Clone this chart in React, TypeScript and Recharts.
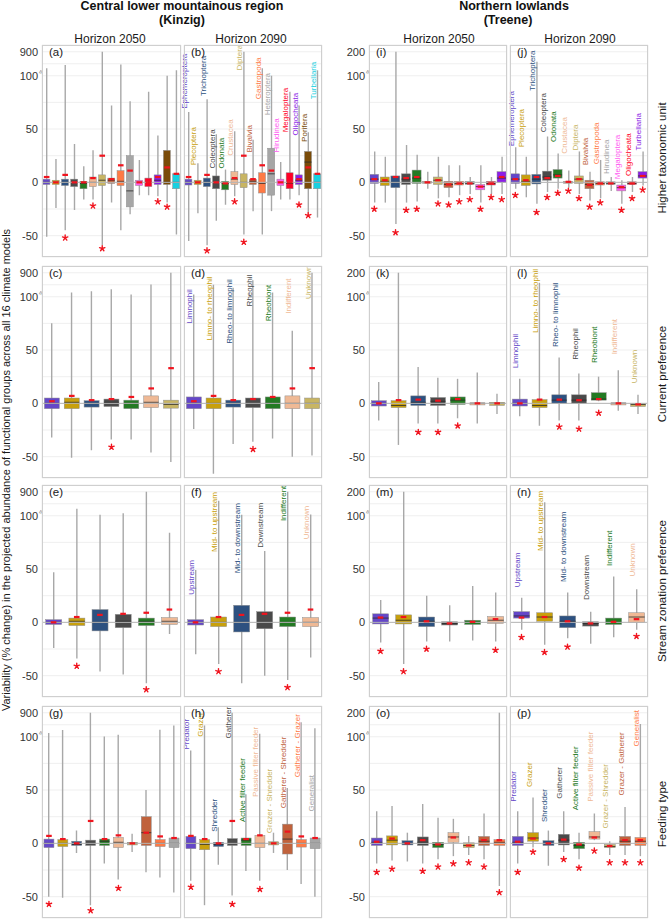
import React from 'react'
import {
  ComposedChart,
  Bar,
  Line,
  XAxis,
  YAxis,
  CartesianGrid,
  ReferenceLine,
} from 'recharts'

// each row: [low whisker, q1, median, q3, high whisker, mean, star (null = none)]
type Stat = [number, number, number, number, number, number, number | null]

const PURPLE = '#6447c8'
const GOLD = '#c8a00c'
const BLUE = '#2d5180'
const DARK = '#4a4a4a'
const GREEN = '#237a23'
const PEACH = '#efb995'
const KHAKI = '#c8b563'
const SIENNA = '#c0623c'
const ORANGE = '#ff7a45'
const GREY = '#a6a6a6'
const MAGENTA = '#ff5cf0'
const RED = '#ff0026'
const VIOLET = '#8b1ee6'
const BROWN = '#7a4b08'
const CYAN = '#18d0e0'

// ---- Higher taxonomic unit
const kinzigTaxa = ['Ephemeroptera', 'Plecoptera', 'Trichoptera', 'Coleoptera', 'Odonata', 'Crustacea', 'Diptera', 'Bivalvia', 'Gastropoda', 'Heteroptera', 'Hirudinea', 'Megaloptera', 'Oligocheata', 'Porifera', 'Turbellaria']
const kinzigTaxaColors = [PURPLE, GOLD, BLUE, DARK, GREEN, PEACH, KHAKI, SIENNA, ORANGE, GREY, MAGENTA, RED, VIOLET, BROWN, CYAN]
const treeneTaxa = ['Ephemeroptera', 'Plecoptera', 'Trichoptera', 'Coleoptera', 'Odonata', 'Crustacea', 'Diptera', 'Bivalvia', 'Gastropoda', 'Hirudinea', 'Megaloptera', 'Oligocheata', 'Turbellaria']
const treeneTaxaColors = [PURPLE, GOLD, BLUE, DARK, GREEN, PEACH, KHAKI, SIENNA, ORANGE, GREY, MAGENTA, RED, VIOLET]

const statsA: Stat[] = [
  [-51, -2, 0, 3, 350, 5, null], [-24, -2, 0, 2, 22, 0, null], [-45, -3, 0, 3, 455, 7, -52],
  [-26, -4, 0, 3, 36, 0, null], [-16, -6, -1, 1, 15, 0, null], [-16, -4, 0, 5, 30, 4, -22],
  [-59, -3, 2, 7, 900, 25, -62], [-19, -1, 2, 4, 72, 3, null], [-45, -3, 1, 11, 470, 16, null],
  [-30, -23, -8, 25, 76, 11, null], [-12, -3, 0, 2, 21, 0, null], [-12, -4, 0, 4, 85, 0, null],
  [-13, -2, 2, 7, 44, 5, -18], [-19, -2, 0, 30, 100, 14, -23], [-49, -6, 0, 8, 280, 8, null],
]
const statsB: Stat[] = [
  [-55, -2.5, 0, 3, 66, 5, null], [-29, -2, 0, 2, 18, 0, null], [-59, -4, 0, 4, 78, 7, -64],
  [-36, -6, 0, 6, 45, 0, null], [-21, -7, -1, 1, 12, -1, null], [-13, -2, 3, 10, 48, 4, -18],
  [-49, -5, 0, 8, 900, 25, -56], [-27, -2, 1, 3, 40, 3, null], [-49, -10, -1, 9, 350, 16, null],
  [-27, -12, 8, 32, 100, 11, null], [-16, -3, 0, 3, 19, 0, null], [-16, -6, -1, 9, 85, 0, null],
  [-12, -2, 2, 7, 72, 3, -21], [-29, -6, 19, 29, 47, 14, -31], [-33, -6, 0, 8, 280, 8, null],
]
const labelsB = [68, 15, 80, 12, 12, 24, 240, 27, 77, 62, 27, 46, 43, 37, 77]

const statsI: Stat[] = [
  [-19, -1, 3, 7.5, 29, 3, -25], [-19, -3, 1, 5, 24, 2, null], [-39, -5, 0, 6, 200, 5, -47],
  [-19, -2, 3, 8, 35, 4, -26], [-18, -1, 4, 11.5, 26, 5, -25], [-6, -1, 0, 1, 10, 0, null],
  [-15, -2, 2, 5, 24, 2, -20], [-14, -5, -2, 1, 16, -2, -21], [-12, -2.5, -1, 1, 16, -1, -18],
  [-11, -2, -1, 1, 5, -1, -16], [-19, -7, -4, -2, 16, -4, -25], [-11, -2.5, -1, 1, 5, -1, -14],
  [-11, 0, 4, 10, 24, 5, -16],
]
const statsJ: Stat[] = [
  [-6, -1, 3, 8, 33, 3, -12], [-14, -3, 1, 7, 24, 2, null], [-20, -1.5, 3, 7.5, 158, 5, -28],
  [-9, 2, 5, 10.5, 43, 4, -14], [-6, 4, 7, 12, 27, 6, -10], [-5, -1, 0, 1, 11, 0.5, -8],
  [-11, -1, 3, 6, 29, 3, -15], [-17, -6, -2, 2, 10, -2.5, -23], [-15, -2.5, -1, 0.5, 21, -1, -19],
  [-8, -2, -1, 0.5, 5, -1, null], [-20, -8, -5, -2.5, 2, -4.5, -26], [-9, -2, -1, 0.5, 5, -1, -15],
  [-3, 4, 6, 10, 29, 6, -7],
]
const labelsJ = [33, 32, 85, 46, 37, 26, 29, 15, 16, 7, 2, 5, 29]

// ---- Current preference
const currentCats = ['Limnophil', 'Limno- to rheophil', 'Rheo- to limnophil', 'Rheophil', 'Rheobiont', 'Indifferent', 'Unknown']
const currentColors = [PURPLE, GOLD, BLUE, DARK, GREEN, PEACH, KHAKI]

const statsC: Stat[] = [
  [-32, -5, 0, 5, 75, 2, null], [-51, -5, 1, 5, 240, 7, null], [-44, -3.5, 0, 2.5, 280, 3, null],
  [-34, -3, 1, 4, 350, 4, -41], [-34, -5, 0, 3, 175, 6, null], [-46, -4, 1, 7, 510, 14, null],
  [-55, -4.5, -1, 3, 900, 33, null],
]
const statsD: Stat[] = [
  [-24, -5, 0, 6, 175, 2, null], [-66, -5, 0, 5, 500, 7, null], [-38, -3.5, 0, 3, 400, 3, null],
  [-36, -4, 0, 5, 650, 4, -43], [-33, -5, 0, 6, 240, 6, null], [-50, -5, 0, 7, 68, 14, null],
  [-49, -5, 0, 5, 900, 33, null],
]
const labelsD = [74, 58, 55, 90, 76, 83, 97]

const statsK: Stat[] = [
  [-16, -2.5, 0, 2.5, 20, 0, null], [-39, -4, -2, 2.5, 200, 3, null], [-19, -2, 1, 7, 34, 3.5, -27],
  [-19, -2, 2, 5.5, 24, 2.5, -27], [-14, -1, 3, 6, 23, 4, -21], [-19, -1.5, 0, 0.5, 29, 0, null],
  [-10, -2, 0, 1, 9, 0, null],
]
const statsL: Stat[] = [
  [-12, -2.5, 0, 4, 23, 0, null], [-21, -4, -2, 3.5, 158, 3.5, null], [-16, 0, 3, 8, 43, 3.5, -22],
  [-16, 0, 3, 8, 28, 3, -24], [2, 3, 4, 10, 25, 4, -9], [-7, -1.5, 0, 0.5, 31, 0, null],
  [-10, -3, -1, 0, 8, -1, null],
]
const labelsL = [32, 65, 52, 40, 37, 45, 18]

// ---- Stream zonation preference
const zoneCats = ['Upstream', 'Mid- to upstream', 'Mid- to downstream', 'Downstream', 'Indifferent', 'Unknown']
const zoneColors = [PURPLE, GOLD, BLUE, DARK, GREEN, PEACH]

const statsE: Stat[] = [
  [-24, -2, 0, 2.5, 47, 0, null], [-34, -3, 1, 4, 330, 5, -41], [-46, -8, 0, 12, 135, 7, null],
  [-49, -5, 1, 7.5, 180, 8, null], [-57, -3, 1, 4, 900, 9, -63], [-11, -2, 1, 4.5, 84, 12, null],
]
const statsF: Stat[] = [
  [-30, -2.5, 0, 2.5, 49, 0, null], [-39, -4, 0, 5, 600, 5, -46], [-57, -9, 0, 16, 135, 7, null],
  [-50, -6, 0, 10, 67, 8, null], [-54, -4, 0, 5, 900, 9, -61], [-33, -4, 0, 4.5, 140, 12, null],
]
const labelsF = [25, 65, 45, 69, 94, 77]

const statsM: Stat[] = [
  [-19, -1.5, 4, 8, 21, 4.5, -27], [-39, -1.5, 2, 7, 200, 5, -46], [-18, -4, 1, 5, 25, 1, -25],
  [-18, -2.5, -1, 0.5, 16, -1, null], [-17, -2, 0, 2, 34, 0.5, null], [-18, -1, 2, 5.5, 28, 3, -26],
]
const statsN: Stat[] = [
  [-7, 4, 6, 10, 23, 4.5, -14], [-21, 1, 5, 9, 156, 5, -28], [-15, -5, 1, 6, 28, 1, -23],
  [-20, -3.5, -1, 0.5, 10, -1, null], [-14, -2, 0, 4, 43, 0.5, null], [-7, 0, 5, 9, 31, 3, -13],
]
const labelsN = [32, 66, 37, 20, 52, 42]

// ---- Feeding type
const kinzigFeed = ['Predator', 'Grazer', 'Shredder', 'Gatherer', 'Active filter feeder', 'Passive filter feeder', 'Grazer - Shredder', 'Gatherer - Shredder', 'Gatherer - Grazer', 'Generalist']
const kinzigFeedColors = [PURPLE, GOLD, BLUE, DARK, GREEN, PEACH, KHAKI, SIENNA, ORANGE, GREY]
const treeneFeed = ['Predator', 'Grazer', 'Shredder', 'Gatherer', 'Active filter feeder', 'Passive filter feeder', 'Grazer - Shredder', 'Grazer - Gatherer', 'Generalist']
const treeneFeedColors = [PURPLE, GOLD, BLUE, DARK, GREEN, PEACH, KHAKI, SIENNA, ORANGE]

const statsG: Stat[] = [
  [-50, -4, 0, 4, 220, 7, -57], [-51, -3, 0, 3.5, 320, 4, null], [-9, -2, -1, 2, 12, 0, null],
  [-58, -2, 0, 3, 900, 21, -63], [-19, -2, 2, 4, 110, 4, null], [-34, -4, 1, 5.5, 167, 7.5, -42],
  [-8, -1.5, 0, 1, 9, 0, null], [-27, -2, 10, 25, 50, 10, null], [-32, -3, 0, 3.5, 330, 6.5, null],
  [-46, -4, 0, 5, 475, 5, null],
]
const statsH: Stat[] = [
  [-35, -5, 0, 6.5, 87, 7, -41], [-58, -6, -1, 3.5, 475, 4, null], [-20, -3, -1, 1, 15, 0, null],
  [-49, -2, 0, 4.5, 900, 21, -57], [-26, -2, 3, 5, 46, 4, null], [-35, -4, 0, 7.5, 200, 7.5, -43],
  [-9, -1.5, 0, 1.5, 10, 0, null], [-25, -10, 4, 18, 52, 11, null], [-38, -3.5, 0, 3.5, 585, 6.5, null],
  [-50, -5, 0, 5, 385, 5, null],
]
const labelsH = [87, 99, 10, 97.5, 19, 42.5, 8.6, 32, 61, 29]

const statsO: Stat[] = [
  [-19, -2, 1, 5, 30, 1.5, -27], [-16, -1.5, 3, 7, 35, 4.5, -24], [-17, -1.5, 0, 2.5, 10, 0, null],
  [-19, -2, 1, 6, 37, 3, -26], [-15, -4, -1, 1, 24, -1, -22], [-12, 1, 6, 10, 23, 5.5, -19],
  [-11, -4, -2, 0.5, 7, -2, -18], [-15, -2, 2, 6.5, 28, 3, -22], [-40, -2, 1, 3.5, 200, 3, -46],
]
const statsP: Stat[] = [
  [-19, -2, 1, 6.5, 30, 1.5, -27], [-4, 2, 5, 10, 43, 4.5, -8], [-21, -2, 0, 2.5, 12, 0, null],
  [-8, -1.5, 3, 8.5, 30, 3.5, -15], [-15, -5, -2, 1, 10, -1, -23], [3, 4, 6, 11, 28, 5.5, -7],
  [-11, -4, -3, -1, 2, -2.5, -18], [-11, -2, 2, 6.5, 34, 3, -18], [-12, -2, 2, 5.5, 153, 3, -18],
]
const labelsP = [38, 52, 19, 41, 30, 38, 13, 44, 90]

const yTicks = [-50, -25, 0, 25, 50, 75, 100, 111.25, 122.5]

// broken axis: linear up to 100, the rest up to 900 (Kinzig) or 200 (Treene) squeezed on top
const KINZIG_K = 22.5 / 800
const TREENE_K = 22.5 / 100
const squash = (v: number, k: number) => (v <= 100 ? v : 100 + (v - 100) * k)

const FONT = '"Liberation Sans", Arial, sans-serif'
const PLOT_H = 212
const Y_W = 30

function BoxShape(props: any) {
  const { x, y, width, height, payload } = props
  if (x == null || y == null) return <g />
  const top = Math.min(y, y + height)
  const h = Math.max(Math.abs(height), 1)
  const span = payload.q3t - payload.q1t
  const my = span > 0 ? top + ((payload.q3t - payload.medt) / span) * h : top + h / 2
  return (
    <g>
      <rect x={x} y={top} width={width} height={h} fill={payload.color} stroke="#8f8f8f" strokeWidth={0.5} />
      <line x1={x} x2={x + width} y1={my} y2={my} stroke="#2a2a2a" strokeWidth={0.8} />
    </g>
  )
}

function MeanDot(props: any) {
  const { cx, cy, key } = props
  if (cx == null || cy == null) return <g key={key} />
  return <rect key={key} x={cx - 2.8} y={cy - 1.1} width={5.6} height={2.2} fill="#f0141e" />
}

function StarDot(props: any) {
  const { cx, cy, key, payload } = props
  if (cx == null || cy == null || payload.star == null) return <g key={key} />
  const r = 2.8
  const arms = [0, 1, 2, 3, 4].map((i) => {
    const a = -Math.PI / 2 + (i * 2 * Math.PI) / 5
    return `M${cx},${cy}L${cx + r * Math.cos(a)},${cy + r * Math.sin(a)}`
  })
  return <path key={key} d={arms.join('')} stroke="#f0141e" strokeWidth={1.4} strokeLinecap="round" />
}

function NameDot(props: any) {
  const { cx, cy, key, payload } = props
  if (cx == null || cy == null) return <g key={key} />
  return (
    <text
      key={key}
      transform={`translate(${cx - 1.5},${cy - 1}) rotate(-90)`}
      fontSize={8}
      fontFamily={FONT}
      fill={payload.color}
    >
      {payload.name}
    </text>
  )
}

function YTick(props: any) {
  const { x, y, payload, topLabel } = props
  const v = payload.value
  const text = v === 122.5 ? topLabel : v === 100 ? '100' : v === 50 ? '50' : v === 0 ? '0' : v === -50 ? '-50' : ''
  if (!text) return <g />
  return (
    <g>
      <text x={x} y={y} dy="0.35em" textAnchor="end" fontSize={11} fontFamily={FONT} fill="#333">
        {text}
      </text>
      {v === 100 && (
        <text transform={`translate(${x + 5},${y - 3}) rotate(-70)`} fontSize={7} fontFamily={FONT} fill="#666" textAnchor="middle">
          ≈
        </text>
      )}
    </g>
  )
}

interface PanelProps {
  left: number
  top: number
  width: number
  cats: string[]
  colors: string[]
  stats: Stat[]
  k: number
  gap: string
  axis?: boolean
  topLabel?: string
  labelAt?: number[]
}

function Panel({ left, top, width, cats, colors, stats, k, gap, axis, topLabel, labelAt }: PanelProps) {
  const data = cats.map((name, i) => {
    const [lo, q1, med, q3, hi, mean, star] = stats[i]
    return {
      name,
      color: colors[i],
      whisker: [squash(lo, k), squash(hi, k)],
      box: [squash(q1, k), squash(q3, k)],
      q1t: squash(q1, k),
      q3t: squash(q3, k),
      medt: squash(med, k),
      mean: squash(mean, k),
      star: star == null ? null : squash(star, k),
      lab: labelAt ? squash(labelAt[i], k) : null,
    }
  })
  const yw = axis ? Y_W : 0
  return (
    <div style={{ position: 'absolute', left: left - yw, top }}>
      <ComposedChart
        width={width + yw}
        height={PLOT_H + 4}
        data={data}
        margin={{ top: 0, right: 0, bottom: 0, left: 0 }}
        barCategoryGap={gap}
      >
        <CartesianGrid xAxisId="m" stroke="#ebebeb" strokeWidth={0.8} />
        <XAxis xAxisId="m" dataKey="name" interval={0} tick={false} tickSize={3} axisLine={false} tickLine={{ stroke: '#b3b3b3' }} height={4} />
        <XAxis xAxisId="w" dataKey="name" hide />
        {axis ? (
          <YAxis
            type="number"
            domain={[-70, 128.8]}
            ticks={yTicks}
            interval={0}
            allowDataOverflow
            width={Y_W}
            axisLine={false}
            tickLine={false}
            tickSize={2}
            tickMargin={2}
            tick={<YTick topLabel={topLabel} />}
          />
        ) : (
          <YAxis type="number" domain={[-70, 128.8]} ticks={yTicks} interval={0} allowDataOverflow hide />
        )}
        <ReferenceLine xAxisId="m" y={0} stroke="#b5b5b5" strokeWidth={1} />
        <Bar xAxisId="w" dataKey="whisker" barSize={1.4} fill="#a8a8a8" isAnimationActive={false} />
        <Bar xAxisId="m" dataKey="box" shape={<BoxShape />} isAnimationActive={false} />
        <Line xAxisId="m" dataKey="mean" stroke="none" dot={MeanDot} activeDot={false} isAnimationActive={false} />
        <Line xAxisId="m" dataKey="star" stroke="none" dot={StarDot} activeDot={false} isAnimationActive={false} connectNulls={false} />
        {labelAt && (
          <Line xAxisId="m" dataKey="lab" stroke="none" dot={NameDot} activeDot={false} isAnimationActive={false} />
        )}
      </ComposedChart>
    </div>
  )
}

const ROW_TOP = [45, 266, 485, 706]
const COL_X = [42, 184, 369, 510]
const COL_W = [139, 138, 138, 138]
const TAGS = [
  ['(a)', '(b)', '(i)', '(j)'],
  ['(c)', '(d)', '(k)', '(l)'],
  ['(e)', '(f)', '(m)', '(n)'],
  ['(g)', '(h)', '(o)', '(p)'],
]
const STRIPS = ['Higher taxonomic unit', 'Current preference', 'Stream zonation preference', 'Feeding type']
const STRIP_Y = [158, 374, 591, 814]

export default function App() {
  const rows = [
    { kc: kinzigTaxa, kcol: kinzigTaxaColors, tc: treeneTaxa, tcol: treeneTaxaColors, s: [statsA, statsB, statsI, statsJ], l: [labelsB, labelsJ], g: ['10%', '10%', '6%', '6%'] },
    { kc: currentCats, kcol: currentColors, tc: currentCats, tcol: currentColors, s: [statsC, statsD, statsK, statsL], l: [labelsD, labelsL], g: ['12%', '12%', '12%', '12%'] },
    { kc: zoneCats, kcol: zoneColors, tc: zoneCats, tcol: zoneColors, s: [statsE, statsF, statsM, statsN], l: [labelsF, labelsN], g: ['16%', '16%', '16%', '16%'] },
    { kc: kinzigFeed, kcol: kinzigFeedColors, tc: treeneFeed, tcol: treeneFeedColors, s: [statsG, statsH, statsO, statsP], l: [labelsH, labelsP], g: ['14%', '14%', '15%', '15%'] },
  ]
  return (
    <div style={{ position: 'absolute', left: 0, top: 0, width: 670, height: 920, background: '#fff', overflow: 'hidden' }}>
      <style>{'.recharts-surface { overflow: visible; }'}</style>
      {rows.map((r, ri) => (
        <React.Fragment key={ri}>
          <Panel left={COL_X[0]} top={ROW_TOP[ri]} width={COL_W[0]} cats={r.kc} colors={r.kcol} stats={r.s[0]} k={KINZIG_K} gap={r.g[0]} axis topLabel="900" />
          <Panel left={COL_X[1]} top={ROW_TOP[ri]} width={COL_W[1]} cats={r.kc} colors={r.kcol} stats={r.s[1]} k={KINZIG_K} gap={r.g[1]} labelAt={r.l[0]} />
          <Panel left={COL_X[2]} top={ROW_TOP[ri]} width={COL_W[2]} cats={r.tc} colors={r.tcol} stats={r.s[2]} k={TREENE_K} gap={r.g[2]} axis topLabel="200" />
          <Panel left={COL_X[3]} top={ROW_TOP[ri]} width={COL_W[3]} cats={r.tc} colors={r.tcol} stats={r.s[3]} k={TREENE_K} gap={r.g[3]} labelAt={r.l[1]} />
        </React.Fragment>
      ))}
      <svg width={670} height={920} style={{ position: 'absolute', left: 0, top: 0, pointerEvents: 'none' }} fontFamily={FONT}>
        <text x={182} y={10} textAnchor="middle" fontSize={12.5} fontWeight="bold" fill="#111">Central lower mountainous region</text>
        <text x={182} y={23.5} textAnchor="middle" fontSize={12.5} fontWeight="bold" fill="#111">(Kinzig)</text>
        <text x={514} y={10} textAnchor="middle" fontSize={12.5} fontWeight="bold" fill="#111">Northern lowlands</text>
        <text x={508} y={23.5} textAnchor="middle" fontSize={12.5} fontWeight="bold" fill="#111">(Treene)</text>
        <text x={110} y={42.5} textAnchor="middle" fontSize={12} fill="#1a1a1a">Horizon 2050</text>
        <text x={251} y={42.5} textAnchor="middle" fontSize={12} fill="#1a1a1a">Horizon 2090</text>
        <text x={439} y={42.5} textAnchor="middle" fontSize={12} fill="#1a1a1a">Horizon 2050</text>
        <text x={580} y={42.5} textAnchor="middle" fontSize={12} fill="#1a1a1a">Horizon 2090</text>
        {ROW_TOP.map((t, ri) =>
          COL_X.map((x, ci) => (
            <g key={`${ri}-${ci}`}>
              <rect x={x + 0.5} y={t + 0.5} width={COL_W[ci] - 1} height={PLOT_H - 1} fill="none" stroke="#cfcfcf" strokeWidth={1} />
              <text x={x + 7} y={t + 11} fontSize={11.5} fill="#1a1a1a">{TAGS[ri][ci]}</text>
            </g>
          ))
        )}
        {STRIPS.map((s, i) => (
          <text key={s} transform={`translate(666,${STRIP_Y[i]}) rotate(-90)`} textAnchor="middle" fontSize={11.5} fill="#1a1a1a">{s}</text>
        ))}
        <text transform="translate(10,470) rotate(-90)" textAnchor="middle" fontSize={11} fill="#1a1a1a">
          Variability (% change) in the projected abundance of functional groups across all 16 climate models
        </text>
      </svg>
    </div>
  )
}
